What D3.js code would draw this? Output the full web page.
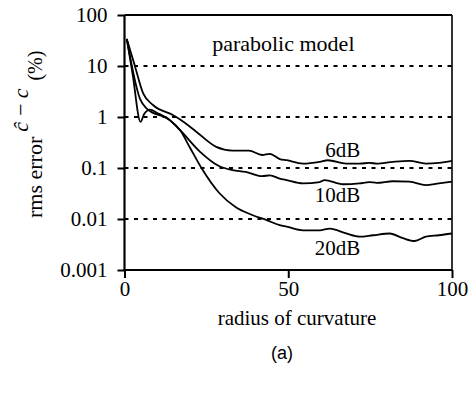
<!DOCTYPE html>
<meta charset="utf-8">
<style>
body { margin: 0; background: #fff; }
svg text { font-family: "Liberation Serif", "Times New Roman", serif; fill: #000; }
</style>
<body>
<script src="https://d3js.org/d3.v7.min.js"></script>
<script>

// radius of curvature / rms error (%)
var r6 = [0.7, 3, 5.7, 8.8, 14.9, 17, 22, 28, 33, 38, 42, 44.4, 47.4, 49.5, 54.5, 59.6, 62.1, 67.7, 71.8, 74.8, 77, 82, 87, 92, 96, 100];
var v6 = [34, 11, 2.9, 1.7, 1.08, 0.89, 0.51, 0.26, 0.22, 0.22, 0.18, 0.19, 0.15, 0.142, 0.122, 0.132, 0.142, 0.122, 0.122, 0.126, 0.122, 0.132, 0.138, 0.122, 0.126, 0.138];

var r10 = [0.7, 4.7, 6.8, 13.9, 17, 23, 29, 33, 37, 42, 44.4, 47.4, 49.5, 54.5, 59.6, 61.1, 66.7, 71.8, 74.8, 77, 82, 87, 92, 96, 100];
var v10 = [34, 2.3, 1.46, 0.86, 0.55, 0.21, 0.108, 0.091, 0.084, 0.069, 0.072, 0.062, 0.058, 0.05, 0.053, 0.058, 0.048, 0.05, 0.053, 0.051, 0.055, 0.054, 0.046, 0.05, 0.054];

var r20 = [0.7, 2.5, 4.9, 6, 7.8, 10, 13.9, 17, 20, 23.5, 29, 34, 39, 43.4, 47.4, 49.5, 54.5, 59.6, 62.7, 67.7, 71.8, 75.9, 81, 85, 88.6, 92, 96, 100];
var v20 = [34, 6.8, 0.8, 1.15, 1.4, 1.2, 0.86, 0.55, 0.25, 0.1, 0.032, 0.017, 0.012, 0.0095, 0.0076, 0.0071, 0.006, 0.006, 0.0065, 0.0052, 0.0045, 0.0048, 0.0052, 0.0042, 0.0037, 0.0045, 0.0048, 0.0052];

var seriesNames = ["6dB", "10dB", "20dB"];
var xTicks = [0, 50, 100];
var yTicks = [0.001, 0.01, 0.1, 1, 10, 100];
var gridValues = [0.01, 0.1, 1, 10];

var margin = {top: 15, left: 124.5, right: 20, bottom: 131};
var W = 472, H = 401;
var width = W - margin.left - margin.right;
var height = H - margin.top - margin.bottom;
var serif = '"Liberation Serif", "Times New Roman", serif';

var svg = d3.select("body").append("svg")
  .attr("width", W)
  .attr("height", H);

var g = svg.append("g")
  .attr("transform", "translate(" + margin.left + "," + margin.top + ")");

var x = d3.scaleLinear().domain([0, 100]).range([0, width]);
var y = d3.scaleLog().domain([0.001, 100]).range([height, 0]);

// dotted grid lines
g.selectAll(".grid").data(gridValues).enter().append("line")
  .attr("x1", 0).attr("x2", width)
  .attr("y1", function(d) { return y(d); })
  .attr("y2", function(d) { return y(d); })
  .attr("stroke", "#000")
  .attr("stroke-width", 2)
  .attr("stroke-dasharray", "4,5.5");

// frame top / right
g.append("line").attr("x1", 0).attr("x2", width).attr("y1", 0).attr("y2", 0)
  .attr("stroke", "#000").attr("stroke-width", 2);
g.append("line").attr("x1", width).attr("x2", width).attr("y1", 0).attr("y2", height)
  .attr("stroke", "#000").attr("stroke-width", 1.6);

var xAxis = d3.axisBottom(x).tickValues(xTicks).tickSize(8).tickFormat(d3.format("d"));
var yAxis = d3.axisLeft(y).tickValues(yTicks).tickSize(7)
  .tickFormat(function(d) { return d >= 1 ? d3.format("d")(d) : String(d); });

var gx = g.append("g").attr("transform", "translate(0," + height + ")").call(xAxis);
var gy = g.append("g").call(yAxis);

[gx, gy].forEach(function(a) {
  a.attr("font-family", serif).attr("font-size", 21);
  a.select(".domain").remove();
  a.selectAll(".tick line").attr("stroke-width", 2);
  a.selectAll("text").style("font-family", serif).style("font-size", "21px");
});
g.append("line").attr("x1", 0).attr("x2", width).attr("y1", height).attr("y2", height)
  .attr("stroke", "#000").attr("stroke-width", 2.2);
g.append("line").attr("x1", 0).attr("x2", 0).attr("y1", 0).attr("y2", height)
  .attr("stroke", "#000").attr("stroke-width", 2.2);

gx.selectAll("text").attr("y", 11);
gy.selectAll("text").attr("x", -17);

// curves
var line = d3.line()
  .x(function(d) { return x(d[0]); })
  .y(function(d) { return y(d[1]); })
  .curve(d3.curveMonotoneX);

[[r6, v6], [r10, v10], [r20, v20]].forEach(function(s) {
  var pts = s[0].map(function(r, i) { return [r, s[1][i]]; });
  g.append("path").datum(pts)
    .attr("d", line)
    .attr("fill", "none")
    .attr("stroke", "#000")
    .attr("stroke-width", 1.8)
    .attr("stroke-linejoin", "round");
});

// series labels
var labelPos = [[72, 0.164], [72, 0.0215], [72, 0.002]];
seriesNames.forEach(function(n, i) {
  g.append("text")
    .attr("x", x(labelPos[i][0]))
    .attr("y", y(labelPos[i][1]))
    .attr("text-anchor", "end")
    .style("font-size", "21px")
    .text(n);
});

g.append("text")
  .attr("x", x(48.5))
  .attr("y", 36)
  .attr("text-anchor", "middle")
  .style("font-size", "22px")
  .text("parabolic model");

// axis titles
svg.append("text")
  .attr("x", 297)
  .attr("y", 325)
  .attr("text-anchor", "middle")
  .style("font-size", "21px")
  .text("radius of curvature");

svg.append("text")
  .attr("x", 282)
  .attr("y", 359)
  .attr("text-anchor", "middle")
  .style("font-family", "Liberation Sans, Arial, sans-serif")
  .style("font-size", "18px")
  .text("(a)");

var yl = svg.append("text")
  .attr("transform", "translate(42,218) rotate(-90)")
  .style("font-size", "22px");
yl.append("tspan").text("rms error");
yl.append("tspan").attr("dx", 5).attr("dy", -14).style("font-style", "italic").text("\u0109\u2009\u2212\u2009c");
yl.append("tspan").attr("dx", 8).attr("dy", 14).style("font-size", "20px").text("(%)");

</script>
</body>
